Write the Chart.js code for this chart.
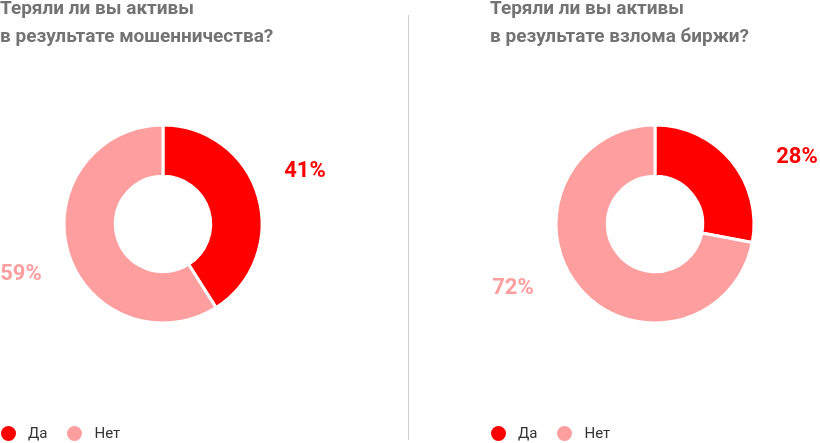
<!DOCTYPE html>
<html>
<head>
  <meta charset="utf-8" />
  <title>Потеря активов</title>
  <script src="https://cdn.jsdelivr.net/npm/chart.js"></script>
  <style>
    body { margin: 0; width: 820px; height: 443px; position: relative; overflow: hidden; background: #fff; font-family: Roboto, Arial, sans-serif; }
    .panel { position: absolute; top: 0; height: 443px; }
    .panel canvas { position: absolute; left: 0; top: 0; }
    .title { position: absolute; top: -6px; font-weight: bold; font-size: 19px; line-height: 28px; color: #737373; white-space: nowrap; z-index: 2; }
    .legend { position: absolute; top: 424px; display: flex; align-items: center; font-size: 15px; color: #333; z-index: 2; }
    .legend .dot { width: 15px; height: 15px; border-radius: 50%; margin-right: 12px; }
    .legend .txt { margin-right: 20px; }
    #divider { position: absolute; left: 408px; top: 15px; width: 1px; height: 425px; background: #d0d0d0; }
  </style>
</head>
<body>
  <div class="panel" id="p1" style="left:0;width:408px;">
    <div class="title" style="left:0;"></div>
    <canvas id="c1" width="408" height="443"></canvas>
    <div class="legend" style="left:1px;"></div>
  </div>
  <div id="divider"></div>
  <div class="panel" id="p2" style="left:408px;width:412px;">
    <div class="title" style="left:82px;"></div>
    <canvas id="c2" width="412" height="443"></canvas>
    <div class="legend" style="left:83px;"></div>
  </div>
<script>
const categories = ['Да', 'Нет'];
const fraudValues = [41, 59];
const hackValues = [28, 72];
const titles = [
  ['Теряли ли вы активы', 'в результате мошенничества?'],
  ['Теряли ли вы активы', 'в результате взлома биржи?']
];
const colors = ['#ff0000', '#ff9e9e'];

const pctLabels = {
  id: 'pctLabels',
  afterDatasetsDraw(chart) {
    const ctx = chart.ctx;
    const meta = chart.getDatasetMeta(0);
    const vals = chart.data.datasets[0].data;
    ctx.save();
    ctx.font = 'bold 22px Roboto, Arial, sans-serif';
    ctx.textAlign = 'center';
    ctx.textBaseline = 'middle';
    meta.data.forEach((arc, i) => {
      const p = arc.getProps(['x', 'y', 'startAngle', 'endAngle'], true);
      const mid = (p.startAngle + p.endAngle) / 2;
      const c = Math.cos(mid), s = Math.sin(mid);
      const x = p.x + Math.sign(c) * 142;
      const y = p.y + Math.sign(s) * (40 + 40 * Math.abs(s)) - 1;
      ctx.fillStyle = colors[i];
      ctx.fillText(vals[i] + '%', x, y);
    });
    ctx.restore();
  }
};

function makeChart(id, values, pad) {
  return new Chart(document.getElementById(id), {
    type: 'doughnut',
    data: {
      labels: categories,
      datasets: [{
        data: values,
        backgroundColor: colors,
        borderColor: '#fff',
        borderWidth: 3,
        hoverOffset: 0
      }]
    },
    options: {
      responsive: false,
      animation: false,
      events: [],
      radius: 99,
      cutout: 46.5,
      layout: { padding: pad },
      plugins: { legend: { display: false }, tooltip: { enabled: false } }
    },
    plugins: [pctLabels]
  });
}

function fillPanel(panelId, lines) {
  const panel = document.getElementById(panelId);
  panel.querySelector('.title').innerHTML = lines.join('<br>');
  const leg = panel.querySelector('.legend');
  categories.forEach((c, i) => {
    leg.innerHTML += `<span class="dot" style="background:${colors[i]}"></span><span class="txt">${c}</span>`;
  });
}

fillPanel('p1', titles[0]);
fillPanel('p2', titles[1]);
makeChart('c1', fraudValues, { left: 65, right: 147, top: 126, bottom: 121 });
makeChart('c2', hackValues, { left: 149, right: 67, top: 126, bottom: 121 });
</script>
</body>
</html>
